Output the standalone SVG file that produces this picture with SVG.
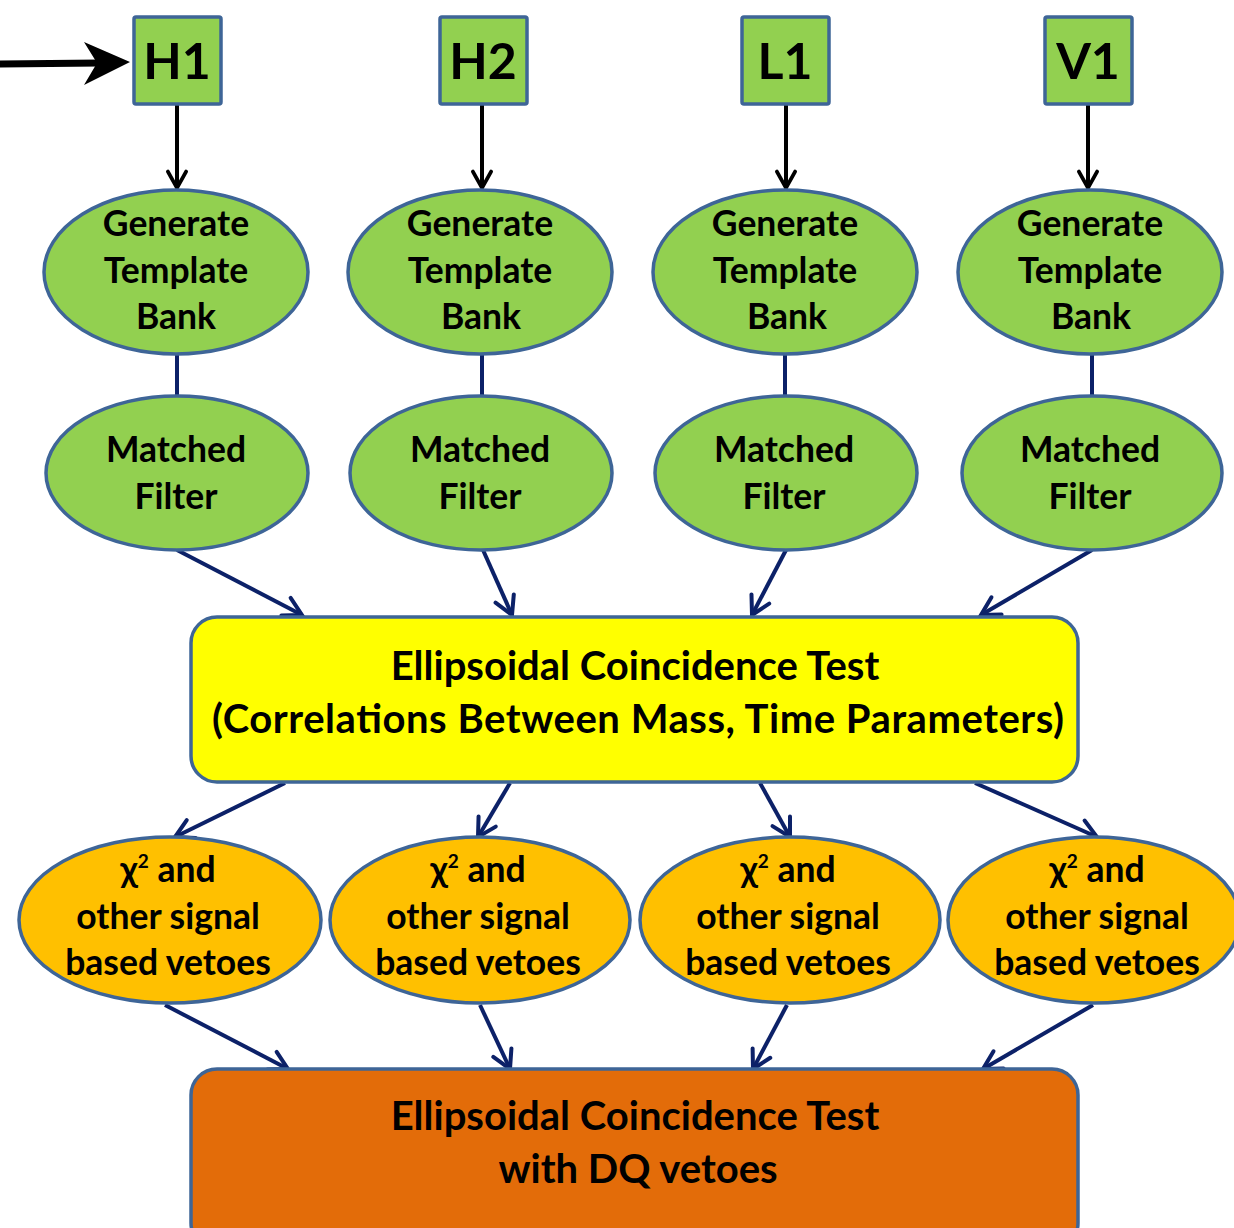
<svg xmlns="http://www.w3.org/2000/svg" width="1234" height="1228" viewBox="0 0 1234 1228">
  <defs>
    <marker id="navyHead" viewBox="0 0 24 24" refX="21" refY="12" markerWidth="24" markerHeight="24" markerUnits="userSpaceOnUse" orient="auto" overflow="visible">
      <path d="M3,2 L21,12 L3,22" fill="none" stroke="#0c2168" stroke-width="4" stroke-linecap="round" stroke-linejoin="miter"/>
    </marker>
    <marker id="blackHead" viewBox="0 0 24 24" refX="21" refY="12" markerWidth="22" markerHeight="22" markerUnits="userSpaceOnUse" orient="auto" overflow="visible">
      <path d="M3,2 L21,12 L3,22" fill="none" stroke="#000" stroke-width="4" stroke-linecap="round"/>
    </marker>
  </defs>
  <style>
    .det { fill: #92d050; stroke: #3e6597; stroke-width: 3.5; }
    .green { fill: #92d050; stroke: #3e6597; stroke-width: 3.5; }
    .amber { fill: #ffc000; stroke: #3e6597; stroke-width: 3.5; }
    .yellow { fill: #ffff00; stroke: #3e6597; stroke-width: 3.5; }
    .rust { fill: #e36c09; stroke: #3e6597; stroke-width: 3.5; }
    text { font-family: Lato, "Open Sans", "DejaVu Sans", sans-serif; font-weight: bold; fill: #000; text-anchor: middle; }
    .big { font-size: 50px; }
    .lbl { font-size: 35.5px; }
    .box { font-size: 40px; }
    .sup { font-size: 19px; }
    .navy { stroke: #0c2168; stroke-width: 4; fill: none; }
    .blk { stroke: #000; stroke-width: 4; fill: none; }
  </style>
  <rect width="1234" height="1228" fill="#fff"/>

  <!-- connectors -->
  <g id="connectors">
    <!-- input arrow into H1 -->
    <line x1="0" y1="64" x2="100" y2="63" stroke="#000" stroke-width="7"/>
    <polygon points="130,62 84,42 97,63 84,85" fill="#000"/>
    <!-- detector to template bank -->
    <line class="blk" x1="177" y1="105" x2="177" y2="188" marker-end="url(#blackHead)"/>
    <line class="blk" x1="482" y1="105" x2="482" y2="188" marker-end="url(#blackHead)"/>
    <line class="blk" x1="786" y1="105" x2="786" y2="188" marker-end="url(#blackHead)"/>
    <line class="blk" x1="1088" y1="105" x2="1088" y2="188" marker-end="url(#blackHead)"/>
    <!-- template bank to matched filter -->
    <line class="navy" x1="177" y1="355" x2="177" y2="398"/>
    <line class="navy" x1="482" y1="355" x2="482" y2="398"/>
    <line class="navy" x1="785" y1="355" x2="785" y2="398"/>
    <line class="navy" x1="1092" y1="355" x2="1092" y2="398"/>
    <!-- matched filter to coincidence test -->
    <line class="navy" x1="177" y1="550" x2="302" y2="615" marker-end="url(#navyHead)"/>
    <line class="navy" x1="483" y1="550" x2="512" y2="615" marker-end="url(#navyHead)"/>
    <line class="navy" x1="786" y1="550" x2="752" y2="615" marker-end="url(#navyHead)"/>
    <line class="navy" x1="1092" y1="550" x2="981" y2="615" marker-end="url(#navyHead)"/>
    <!-- coincidence test to signal vetoes -->
    <line class="navy" x1="285" y1="783" x2="175" y2="837" marker-end="url(#navyHead)"/>
    <line class="navy" x1="510" y1="783" x2="478" y2="837" marker-end="url(#navyHead)"/>
    <line class="navy" x1="760" y1="783" x2="790" y2="837" marker-end="url(#navyHead)"/>
    <line class="navy" x1="975" y1="783" x2="1097" y2="837" marker-end="url(#navyHead)"/>
    <!-- signal vetoes to DQ coincidence test -->
    <line class="navy" x1="165" y1="1005" x2="288" y2="1069" marker-end="url(#navyHead)"/>
    <line class="navy" x1="480" y1="1005" x2="510" y2="1069" marker-end="url(#navyHead)"/>
    <line class="navy" x1="787" y1="1005" x2="753" y2="1069" marker-end="url(#navyHead)"/>
    <line class="navy" x1="1093" y1="1005" x2="983" y2="1069" marker-end="url(#navyHead)"/>
  </g>

  <!-- detectors -->
  <g id="H1"><rect class="det" x="134" y="17" width="87" height="87" rx="2"/><text class="big" x="177" y="79">H1</text></g>
  <g id="H2"><rect class="det" x="440" y="17" width="87" height="87" rx="2"/><text class="big" x="483" y="79">H2</text></g>
  <g id="L1"><rect class="det" x="742" y="17" width="87" height="87" rx="2"/><text class="big" x="785" y="79">L1</text></g>
  <g id="V1"><rect class="det" x="1045" y="17" width="87" height="87" rx="2"/><text class="big" x="1088" y="79">V1</text></g>

  <!-- template banks -->
  <g id="bank-H1"><ellipse class="green" cx="176" cy="272" rx="132" ry="82"/>
    <text class="lbl" x="176" y="236">Generate</text><text class="lbl" x="176" y="283">Template</text><text class="lbl" x="176" y="329">Bank</text></g>
  <g id="bank-H2"><ellipse class="green" cx="480" cy="272" rx="132" ry="82"/>
    <text class="lbl" x="480" y="236">Generate</text><text class="lbl" x="480" y="283">Template</text><text class="lbl" x="481" y="329">Bank</text></g>
  <g id="bank-L1"><ellipse class="green" cx="785" cy="272" rx="132" ry="82"/>
    <text class="lbl" x="785" y="236">Generate</text><text class="lbl" x="785" y="283">Template</text><text class="lbl" x="787" y="329">Bank</text></g>
  <g id="bank-V1"><ellipse class="green" cx="1090" cy="272" rx="132" ry="82"/>
    <text class="lbl" x="1090" y="236">Generate</text><text class="lbl" x="1090" y="283">Template</text><text class="lbl" x="1091" y="329">Bank</text></g>

  <!-- matched filters -->
  <g id="filter-H1"><ellipse class="green" cx="177" cy="473" rx="131" ry="77"/>
    <text class="lbl" x="176" y="462">Matched</text><text class="lbl" x="176" y="509">Filter</text></g>
  <g id="filter-H2"><ellipse class="green" cx="481" cy="473" rx="131" ry="77"/>
    <text class="lbl" x="480" y="462">Matched</text><text class="lbl" x="480" y="509">Filter</text></g>
  <g id="filter-L1"><ellipse class="green" cx="786" cy="473" rx="131" ry="77"/>
    <text class="lbl" x="784" y="462">Matched</text><text class="lbl" x="784" y="509">Filter</text></g>
  <g id="filter-V1"><ellipse class="green" cx="1092" cy="473" rx="130" ry="77"/>
    <text class="lbl" x="1090" y="462">Matched</text><text class="lbl" x="1090" y="509">Filter</text></g>

  <!-- coincidence test -->
  <g id="coincidence"><rect class="yellow" x="191" y="617" width="887" height="165" rx="26"/>
    <text class="box" x="635" y="680">Ellipsoidal Coincidence Test</text>
    <text class="box" x="638" y="733" textLength="852">(Correlations Between Mass, Time Parameters)</text></g>

  <!-- signal based vetoes -->
  <g id="veto-H1"><ellipse class="amber" cx="170" cy="920" rx="151" ry="83"/>
    <text class="lbl" x="168" y="882">χ<tspan class="sup" dy="-14">2</tspan><tspan dy="14"> and</tspan></text><text class="lbl" x="168" y="929">other signal</text><text class="lbl" x="168" y="975">based vetoes</text></g>
  <g id="veto-H2"><ellipse class="amber" cx="480" cy="920" rx="150" ry="83"/>
    <text class="lbl" x="478" y="882">χ<tspan class="sup" dy="-14">2</tspan><tspan dy="14"> and</tspan></text><text class="lbl" x="478" y="929">other signal</text><text class="lbl" x="478" y="975">based vetoes</text></g>
  <g id="veto-L1"><ellipse class="amber" cx="790" cy="920" rx="150" ry="83"/>
    <text class="lbl" x="788" y="882">χ<tspan class="sup" dy="-14">2</tspan><tspan dy="14"> and</tspan></text><text class="lbl" x="788" y="929">other signal</text><text class="lbl" x="788" y="975">based vetoes</text></g>
  <g id="veto-V1"><ellipse class="amber" cx="1094" cy="920" rx="146" ry="83"/>
    <text class="lbl" x="1097" y="882">χ<tspan class="sup" dy="-14">2</tspan><tspan dy="14"> and</tspan></text><text class="lbl" x="1097" y="929">other signal</text><text class="lbl" x="1097" y="975">based vetoes</text></g>

  <!-- DQ coincidence test -->
  <g id="dq-coincidence"><rect class="rust" x="191" y="1069" width="887" height="180" rx="26"/>
    <text class="box" x="635" y="1130">Ellipsoidal Coincidence Test</text>
    <text class="box" x="638" y="1183">with DQ vetoes</text></g>
</svg>
